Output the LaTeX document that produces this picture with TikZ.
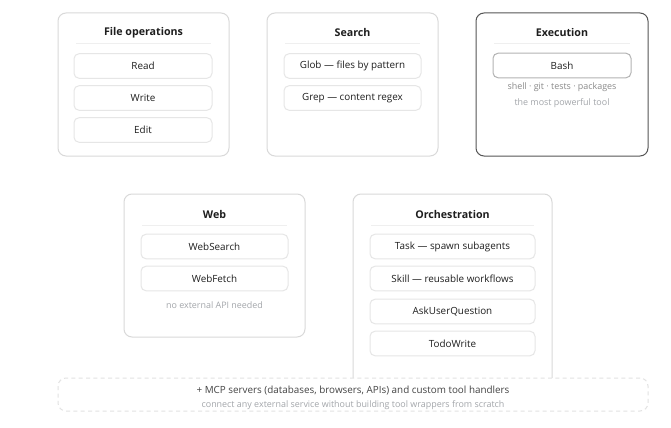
\documentclass[tikz,border=0pt]{standalone}
\usepackage{fontspec}
\setmainfont{Open Sans}
\usetikzlibrary{fit}
\definecolor{grpborder}{HTML}{D9D9D9}
\definecolor{itemborder}{HTML}{E6E6E6}
\definecolor{sepcol}{HTML}{EFEFEF}
\definecolor{execborder}{HTML}{555555}
\definecolor{bashborder}{HTML}{B3B3B3}
\definecolor{txt}{HTML}{1E1E1E}
\definecolor{subtxt}{HTML}{8A8A8A}
\definecolor{lighttxt}{HTML}{A3A6AA}
\definecolor{dashcol}{HTML}{E2E2E2}
\definecolor{mcptxt}{HTML}{444444}
\tikzset{
  grp/.style={draw=grpborder, line width=0.75pt, rounded corners=6pt, fill=white, inner sep=0pt},
  execgrp/.style={grp, draw=execborder},
  itembox/.style={draw=itemborder, line width=0.75pt, rounded corners=3.75pt, fill=white, inner sep=0pt,
    minimum width=#1*0.75pt, minimum height=18.4pt,
    font=\fontsize{7.4}{9}\selectfont, text=txt},
  bashbox/.style={itembox=#1, draw=bashborder},
  grptitle/.style={font=\fontsize{8}{10}\selectfont\bfseries, text=txt, inner sep=0pt},
  sepline/.style={draw=sepcol, line width=0.75pt},
  note/.style={font=\fontsize{6.7}{8}\selectfont, text=subtxt, inner sep=0pt},
  lightnote/.style={note, text=lighttxt},
  mcpbox/.style={draw=dashcol, line width=0.75pt, dash pattern=on 3pt off 2.5pt, rounded corners=6pt, fill=white, inner sep=0pt},
}
\begin{document}
\begin{tikzpicture}[x=0.75pt,y=-0.75pt]
\useasboundingbox[fill=white] (0,0) rectangle (671,428);

% File operations
\node[grp, fit={(58,13) (229,156)}] (fileops) {};
\node[grptitle] (fotitle) at (143.5,33) {File operations};
\draw[sepline] (76,44) -- (211,44);
\node[itembox=138] (read) at (143,66) {Read};
\node[itembox=138] (write) at (143,98) {Write};
\node[itembox=138] (edit) at (143,130) {Edit};

% Search
\node[grp, fit={(267,13) (438,156)}] (search) {};
\node[grptitle] (setitle) at (352.5,33) {Search};
\draw[sepline] (285,44) -- (420,44);
\node[itembox=137] (glob) at (352.5,66) {Glob — files by pattern};
\node[itembox=137] (grep) at (352.5,98) {Grep — content regex};

% Execution
\node[execgrp, fit={(476,13) (648,156)}] (exec) {};
\node[grptitle] (extitle) at (562,33) {Execution};
\draw[sepline] (494,44) -- (630,44);
\node[bashbox=138] (bash) at (562,65.5) {Bash};
\node[note] (bashnote) at (562,87) {shell · git · tests · packages};
\node[lightnote] (bashnote2) at (562,103) {the most powerful tool};

% Web
\node[grp, fit={(124,194) (305,337)}] (web) {};
\node[grptitle] (webtitle) at (214.5,214) {Web};
\draw[sepline] (142,225) -- (287,225);
\node[itembox=147] (websearch) at (214.5,246.5) {WebSearch};
\node[itembox=147] (webfetch) at (214.5,278.5) {WebFetch};
\node[lightnote] (webnote) at (214.5,305) {no external API needed};

% Orchestration
\node[grp, fit={(353,194) (552,400)}] (orch) {};
\node[grptitle] (ortitle) at (452.5,214) {Orchestration};
\draw[sepline] (371,225) -- (534,225);
\node[itembox=165] (task) at (452.5,246.5) {Task — spawn subagents};
\node[itembox=165] (skill) at (452.5,278.5) {Skill — reusable workflows};
\node[itembox=165] (ask) at (452.5,311.5) {AskUserQuestion};
\node[itembox=165] (todo) at (452.5,343.5) {TodoWrite};

% MCP
\node[mcpbox, fit={(58,378) (648,411)}] (mcp) {};
\node[font=\fontsize{7.4}{9}\selectfont, text=mcptxt, inner sep=0pt] (mcp1) at (353,391) {+ MCP servers (databases, browsers, APIs) and custom tool handlers};
\node[lightnote] (mcp2) at (353,405) {connect any external service without building tool wrappers from scratch};
\end{tikzpicture}
\end{document}
